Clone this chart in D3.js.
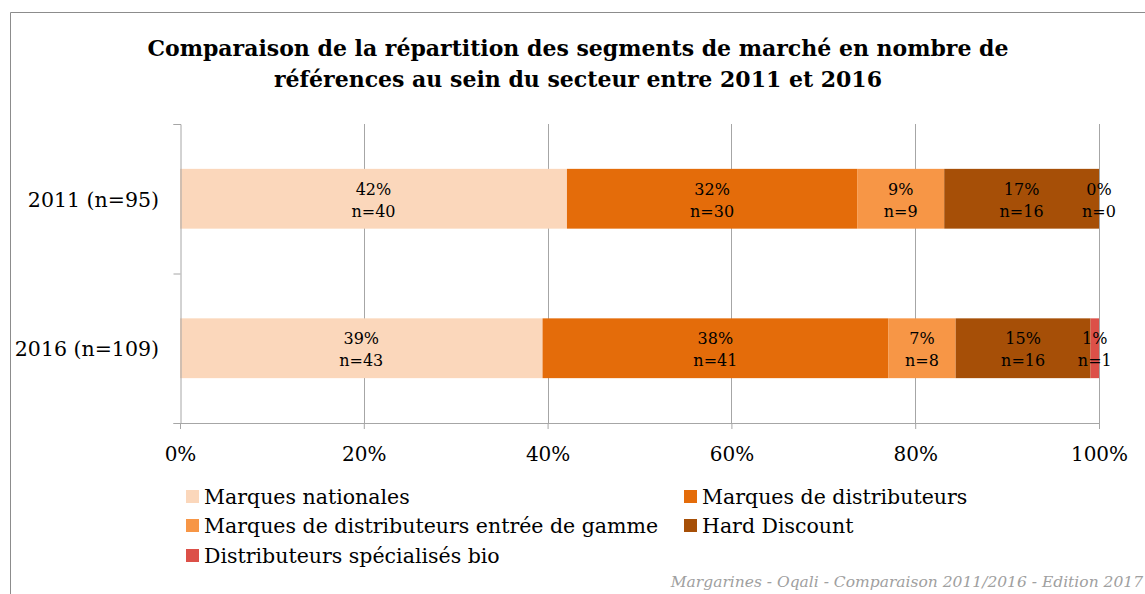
<!DOCTYPE html>
<html>
<head>
<meta charset="utf-8">
<script src="https://cdn.jsdelivr.net/npm/d3@7"></script>
<style>
  body { margin: 0; background: #fff; }
  svg { font-family: "DejaVu Serif", serif; }
</style>
</head>
<body>
<div class="chart"></div>
<script>
var categories = ["2011 (n=95)", "2016 (n=109)"];
var segments = ["Marques nationales", "Marques de distributeurs",
    "Marques de distributeurs entrée de gamme", "Hard Discount",
    "Distributeurs spécialisés bio"];
var counts2011 = [40, 30, 9, 16, 0];
var counts2016 = [43, 41, 8, 16, 1];
var colors = ["#fbd7bb", "#e46c0a", "#f79646", "#a64f07", "#dc5048"];
var xTicks = [0, 0.2, 0.4, 0.6, 0.8, 1];

var width = 1145, height = 594;
var margin = {top: 124, right: 46, bottom: 171, left: 180};

var svg = d3.select(".chart")
    .append("svg")
    .attr("width", width)
    .attr("height", height);

// frame
svg.append("path")
    .attr("d", "M10.5," + height + "V12.5H" + width)
    .attr("fill", "none")
    .attr("stroke", "#8c8c8c");

svg.append("text")
    .attr("x", 578)
    .attr("text-anchor", "middle")
    .attr("font-weight", "bold")
    .attr("font-size", "22px")
    .each(function() {
        var t = d3.select(this);
        ["Comparaison de la répartition des segments de marché en nombre de",
         "références au sein du secteur entre 2011 et 2016"].forEach(function(line, i) {
            t.append("tspan").attr("x", 578).attr("y", 56 + i * 31).text(line);
        });
    });

var x = d3.scaleLinear().domain([0, 1]).range([margin.left, width - margin.right]);
var y = d3.scaleBand().domain(categories).range([margin.top, height - margin.bottom]).paddingInner(0.6).paddingOuter(0.3);

var g = svg.append("g");

// gridlines
g.selectAll("line.grid")
    .data(xTicks.slice(1))
    .enter()
    .append("line")
    .attr("x1", function(d) { return Math.round(x(d)) + 0.5; })
    .attr("x2", function(d) { return Math.round(x(d)) + 0.5; })
    .attr("y1", margin.top)
    .attr("y2", height - margin.bottom)
    .attr("stroke", "#a6a6a6");

var rows = [counts2011, counts2016].map(function(c, i) {
    var total = d3.sum(c), acc = 0;
    return c.map(function(v, j) {
        var s = {cat: categories[i], j: j, n: v, p: v / total, x0: acc};
        acc += v / total;
        s.x1 = acc;
        return s;
    });
});
var segs = rows[0].concat(rows[1]);

g.selectAll("rect")
    .data(segs)
    .enter()
    .append("rect")
    .attr("x", function(d) { return x(d.x0); })
    .attr("y", function(d) { return y(d.cat); })
    .attr("width", function(d) { return x(d.x1) - x(d.x0); })
    .attr("height", y.bandwidth())
    .attr("fill", function(d) { return colors[d.j]; });

g.selectAll("text.lab")
    .data(segs)
    .enter()
    .append("text")
    .attr("class", "lab")
    .attr("text-anchor", "middle")
    .attr("font-size", "16px")
    .attr("fill", "#000")
    .each(function(d) {
        var t = d3.select(this);
        var cx = (x(d.x0) + x(d.x1)) / 2;
        var cy = y(d.cat) + y.bandwidth() / 2;
        [Math.round(d.p * 100) + "%", "n=" + d.n].forEach(function(line, i) {
            t.append("tspan").attr("x", cx).attr("y", cy - 4 + i * 22).text(line);
        });
    });

// axes
var xAxis = d3.axisBottom(x).tickValues(xTicks).tickFormat(d3.format(".0%")).tickSize(6).tickPadding(18);
svg.append("g")
    .attr("transform", "translate(0," + (height - margin.bottom) + ")")
    .call(xAxis)
    .call(function(a) {
        a.select(".domain").attr("stroke", "#a6a6a6").attr("d", "M" + (margin.left - 6) + ",0.5H" + (width - margin.right));
        a.selectAll(".tick line").attr("stroke", "#a6a6a6");
        a.selectAll("text").attr("font-size", "20px").attr("font-family", "DejaVu Serif").attr("fill", "#000");
    });

var yAxis = d3.axisLeft(d3.scalePoint().domain([0, 1, 2]).range([margin.top, height - margin.bottom])).tickSize(7).tickFormat("");
svg.append("g")
    .attr("transform", "translate(" + (margin.left + 0.5) + ",0)")
    .call(yAxis)
    .call(function(a) {
        a.select(".domain").attr("stroke", "#a6a6a6");
        a.selectAll(".tick line").attr("stroke", "#a6a6a6");
    });

svg.selectAll("text.cat")
    .data(categories)
    .enter()
    .append("text")
    .attr("x", 159)
    .attr("y", function(d) { return y(d) + y.bandwidth() / 2 + 8; })
    .attr("text-anchor", "end")
    .attr("font-size", "20.5px")
    .text(function(d) { return d; });

// legend
var legendPos = [[186, 497], [684, 497], [186, 526], [684, 526], [186, 556]];
var leg = svg.selectAll("g.leg")
    .data(segments)
    .enter()
    .append("g")
    .attr("transform", function(d, i) { return "translate(" + legendPos[i][0] + "," + legendPos[i][1] + ")"; });
leg.append("rect")
    .attr("x", 0).attr("y", -7)
    .attr("width", 13).attr("height", 13)
    .attr("fill", function(d, i) { return colors[i]; });
leg.append("text")
    .attr("x", 18).attr("y", 7)
    .attr("font-size", "20.5px")
    .text(function(d) { return d; });

svg.append("text")
    .attr("x", 1143)
    .attr("y", 587)
    .attr("text-anchor", "end")
    .attr("font-style", "italic")
    .attr("font-size", "15.5px")
    .attr("fill", "#a0a0a0")
    .text("Margarines - Oqali - Comparaison 2011/2016 - Edition 2017");
</script>
</body>
</html>
